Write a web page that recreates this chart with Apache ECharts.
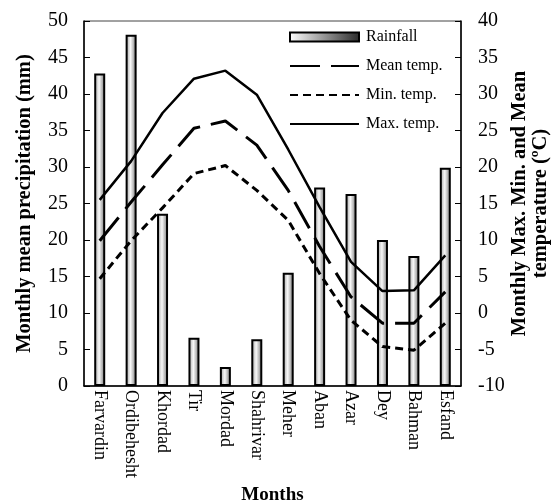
<!DOCTYPE html>
<html>
<head>
<meta charset="utf-8">
<script src="https://cdn.jsdelivr.net/npm/echarts@6/dist/echarts.min.js"></script>
<style>html,body{margin:0;padding:0;background:#fff}#c{width:554px;height:500px}</style>
</head>
<body>
<div id="c"></div>
<script>
const months = ['Farvardin','Ordibehesht','Khordad','Tir','Mordad','Shahrivar','Meher','Aban','Azar','Dey','Bahman','Esfand'];
const rainfall = [42.8, 48.1, 23.6, 6.6, 2.6, 6.4, 15.5, 27.2, 26.3, 20.0, 17.8, 29.9];
const meanTemp = [9.9, 15.2, 20.3, 25.3, 26.3, 23.0, 16.8, 9.1, 2.2, -1.4, -1.4, 2.9];
const minTemp = [4.7, 9.9, 14.4, 19.1, 20.2, 16.8, 12.7, 5.4, -1.0, -4.6, -5.1, -1.4];
const maxTemp = [15.5, 20.8, 27.4, 32.1, 33.2, 29.9, 22.4, 14.5, 7.0, 3.0, 3.1, 7.9];
const leftTicks = {min: 0, max: 50, interval: 5};
const rightTicks = {min: -10, max: 40, interval: 5};

const FONT = '"Liberation Serif", "Times New Roman", serif';
const barGrad = new echarts.graphic.LinearGradient(0, 0, 1, 0, [
  {offset: 0, color: '#9a9a9a'},
  {offset: 0.45, color: '#f8f8f8'},
  {offset: 1, color: '#6e6e6e'}
]);
const legendGrad = new echarts.graphic.LinearGradient(0, 0, 1, 0, [
  {offset: 0, color: '#ffffff'},
  {offset: 1, color: '#2a2a2a'}
]);
const noSymbol = {color: 'rgba(0,0,0,0)', borderWidth: 0};

const chart = echarts.init(document.getElementById('c'), null, {renderer: 'canvas'});
chart.setOption({
  animation: false,
  backgroundColor: '#fff',
  textStyle: {fontFamily: FONT, color: '#000'},
  grid: {left: 84, right: 93, top: 21, bottom: 114, containLabel: false, outerBoundsMode: 'none',
         show: true, borderColor: '#444', borderWidth: 1},
  legend: {
    orient: 'vertical', left: 289, top: 29, padding: 0,
    itemWidth: 69, itemHeight: 9, itemGap: 13,
    textStyle: {fontFamily: FONT, fontSize: 16, color: '#000', padding: [0, 0, 0, 2]},
    data: [
      {name: 'Rainfall', icon: 'rect', itemStyle: {color: legendGrad, borderColor: '#000', borderWidth: 2}},
      {name: 'Mean temp.', itemStyle: noSymbol},
      {name: 'Min. temp.', itemStyle: noSymbol},
      {name: 'Max. temp.', itemStyle: noSymbol}
    ]
  },
  xAxis: {
    type: 'category', data: months,
    name: 'Months', nameLocation: 'middle', nameGap: 91,
    nameTextStyle: {fontFamily: FONT, fontSize: 19, fontWeight: 'bold', color: '#000'},
    axisLine: {lineStyle: {color: '#000', width: 1.5}},
    axisTick: {inside: true, length: 5, lineStyle: {color: '#000', width: 1}},
    axisLabel: {rotate: -90, fontFamily: FONT, fontSize: 18, color: '#000', margin: 4, interval: 0}
  },
  yAxis: [
    {
      type: 'value', min: leftTicks.min, max: leftTicks.max, interval: leftTicks.interval,
      name: 'Monthly mean precipitation (mm)', nameLocation: 'middle', nameGap: 49,
      nameTextStyle: {fontFamily: FONT, fontSize: 20.5, fontWeight: 'bold', color: '#000'},
      axisLine: {show: true, lineStyle: {color: '#000', width: 1.5}},
      axisTick: {show: true, inside: true, length: 6, lineStyle: {color: '#000'}},
      axisLabel: {fontFamily: FONT, fontSize: 20, color: '#000', margin: 16},
      splitLine: {show: false}
    },
    {
      type: 'value', min: rightTicks.min, max: rightTicks.max, interval: rightTicks.interval,
      position: 'right',
      name: 'Monthly Max. Min. and Mean\ntemperature (ºC)', nameLocation: 'middle', nameGap: 48, nameRotate: 90,
      nameMoveOverlap: false,
      nameTextStyle: {fontFamily: FONT, fontSize: 20.5, fontWeight: 'bold', color: '#000', lineHeight: 21, align: 'center'},
      axisLine: {show: true, lineStyle: {color: '#000', width: 1.5}},
      axisTick: {show: true, inside: true, length: 6, lineStyle: {color: '#000'}},
      axisLabel: {fontFamily: FONT, fontSize: 20, color: '#000', margin: 17},
      splitLine: {show: false}
    }
  ],
  series: [
    {
      name: 'Rainfall', type: 'bar', yAxisIndex: 0, data: rainfall, barWidth: 11,
      itemStyle: {color: barGrad, borderColor: '#000', borderWidth: 2}
    },
    {
      name: 'Mean temp.', type: 'line', yAxisIndex: 1, data: meanTemp, symbol: 'none', z: 5,
      lineStyle: {color: '#000', width: 3, type: [30, 11]}
    },
    {
      name: 'Min. temp.', type: 'line', yAxisIndex: 1, data: minTemp, symbol: 'none', z: 5,
      lineStyle: {color: '#000', width: 3, type: [8, 5]}
    },
    {
      name: 'Max. temp.', type: 'line', yAxisIndex: 1, data: maxTemp, symbol: 'none', z: 5,
      lineStyle: {color: '#000', width: 2.5, type: 'solid'}
    }
  ]
});
</script>
</body>
</html>
